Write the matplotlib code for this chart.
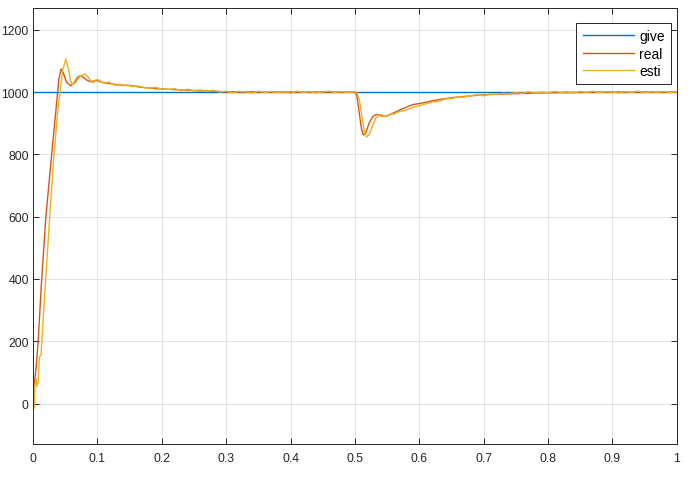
import matplotlib
matplotlib.use("Agg")
from matplotlib import pyplot as plt

plt.rcParams['font.family'] = ['Liberation Sans', 'DejaVu Sans']

# reference speed
give_t = [0.0, 1.0]
give_v = [1000, 1000]

# measured speed
real_t = [0.0, 0.002, 0.005, 0.008, 0.0135, 0.02, 0.029, 0.036, 0.040, 0.0435,
          0.047, 0.052, 0.0585, 0.064, 0.069, 0.073, 0.078, 0.084, 0.09, 0.095,
          0.1, 0.105, 0.11, 0.12, 0.13, 0.14, 0.15, 0.16, 0.17, 0.18,
          0.19, 0.2, 0.22, 0.24, 0.26, 0.28, 0.3, 0.33, 0.36, 0.4,
          0.44, 0.47, 0.5, 0.503, 0.507, 0.51, 0.513, 0.517, 0.522, 0.528,
          0.533, 0.537, 0.542, 0.547, 0.555, 0.565, 0.575, 0.59, 0.6, 0.62,
          0.64, 0.66, 0.68, 0.7, 0.72, 0.75, 0.78, 0.8, 0.85, 0.9,
          0.95, 1.0]
real_v = [0, 60, 120, 200, 400, 600, 800, 950, 1040, 1074,
          1062, 1032, 1020, 1030, 1047, 1052, 1048, 1038, 1033, 1036,
          1037, 1033, 1030, 1027, 1024, 1022, 1021, 1018, 1015, 1013,
          1011, 1010, 1008, 1006, 1004, 1003, 1001, 1001, 1000, 1000,
          1000, 1000, 1000, 990, 930, 885, 862, 870, 900, 922,
          928, 927, 923, 922, 928, 938, 947, 960, 963, 972,
          979, 984, 988, 991, 993, 995, 997, 998, 999, 1000,
          1000, 1000]

# estimated speed
esti_t = [0.0, 0.002, 0.003, 0.005, 0.006, 0.008, 0.01, 0.0125, 0.016, 0.0197,
          0.026, 0.0326, 0.038, 0.042, 0.046, 0.051, 0.055, 0.058, 0.061, 0.066,
          0.072, 0.078, 0.081, 0.085, 0.09, 0.094, 0.098, 0.103, 0.108, 0.113,
          0.118, 0.123, 0.13, 0.135, 0.14, 0.147, 0.155, 0.162,
          0.17, 0.18, 0.19, 0.2, 0.21, 0.22, 0.23, 0.24, 0.25, 0.26,
          0.27, 0.28, 0.29, 0.3, 0.31, 0.32, 0.33, 0.34, 0.35, 0.36,
          0.37, 0.38, 0.39, 0.4, 0.41, 0.42, 0.43, 0.44, 0.45, 0.46,
          0.47, 0.48, 0.49, 0.5,
          0.503, 0.507, 0.511, 0.515, 0.518, 0.522, 0.527, 0.532, 0.537, 0.541,
          0.546, 0.551, 0.556,
          0.56, 0.57, 0.58, 0.59, 0.6, 0.61, 0.62, 0.63, 0.64, 0.65,
          0.66, 0.67, 0.68, 0.69, 0.7, 0.71, 0.72, 0.73, 0.74, 0.75,
          0.76, 0.77, 0.78, 0.79, 0.8, 0.81, 0.82, 0.83, 0.84, 0.85,
          0.86, 0.87, 0.88, 0.89, 0.9, 0.91, 0.92, 0.93, 0.94, 0.95,
          0.96, 0.97, 0.98, 0.99, 1.0]
esti_v = [0, -15, 60, 80, 55, 70, 150, 155, 280, 400,
          600, 800, 930, 1000, 1070, 1106, 1075, 1040, 1025, 1030,
          1048, 1056, 1058, 1050, 1035, 1030, 1040, 1038, 1030, 1028,
          1033, 1025, 1022, 1026, 1020, 1023, 1017, 1020,
          1016, 1012, 1015, 1010, 1008, 1011, 1005, 1009, 1004, 1007,
          1002, 1006, 1000, 1003, 998, 1002, 1001, 997, 1003, 999,
          1002, 998, 1001, 996, 1003, 999, 1002, 997, 1001, 1003,
          999, 1002, 998, 1001,
          998, 975, 920, 870, 856, 862, 890, 915, 925, 928,
          921, 924, 930,
          929, 938, 942, 951, 956, 962, 968, 970, 978, 979,
          985, 984, 989, 991, 988, 994, 992, 996, 995, 998,
          996, 1001, 997, 1000, 998, 1002, 999, 1001, 997, 1002,
          999, 1003, 998, 1001, 1000, 997, 1002, 999, 1003, 998,
          1001, 999, 1002, 998, 1001]

x_ticks = [0, 0.1, 0.2, 0.3, 0.4, 0.5, 0.6, 0.7, 0.8, 0.9, 1]
x_labels = ['0', '0.1', '0.2', '0.3', '0.4', '0.5', '0.6', '0.7', '0.8', '0.9', '1']
y_ticks = [0, 200, 400, 600, 800, 1000, 1200]

fig = plt.figure(figsize=(6.92, 4.89), dpi=100)
ax = fig.add_axes([0.0477, 0.09, 0.9303, 0.8916])

ax.plot(give_t, give_v, color='#0072BD', lw=1.0, label='give')
ax.plot(real_t, real_v, color='#D95319', lw=1.0, label='real')
ax.plot(esti_t, esti_v, color='#EDB120', lw=1.0, label='esti')

ax.set_xlim(0, 1)
ax.set_ylim(-130, 1270)
ax.set_xticks(x_ticks)
ax.set_xticklabels(x_labels)
ax.set_yticks(y_ticks)
ax.grid(True, color='#e3e3e3', lw=0.7)
ax.set_axisbelow(True)
ax.tick_params(direction='in', top=True, right=True, length=4, width=0.7,
               colors='#262626', labelsize=8.8, pad=3)
ax.tick_params(axis='x', pad=6)
for s in ax.spines.values():
    s.set_color('#262626')
    s.set_linewidth(0.7)

leg = ax.legend(loc='upper right', bbox_to_anchor=(0.9907, 0.966), fontsize=10,
                fancybox=False, framealpha=1, edgecolor='#262626',
                handlelength=3.7, handletextpad=0.35, borderpad=0.45,
                labelspacing=0.25, borderaxespad=0)
leg.get_frame().set_linewidth(0.7)

fig.savefig('out.png', dpi=100)
